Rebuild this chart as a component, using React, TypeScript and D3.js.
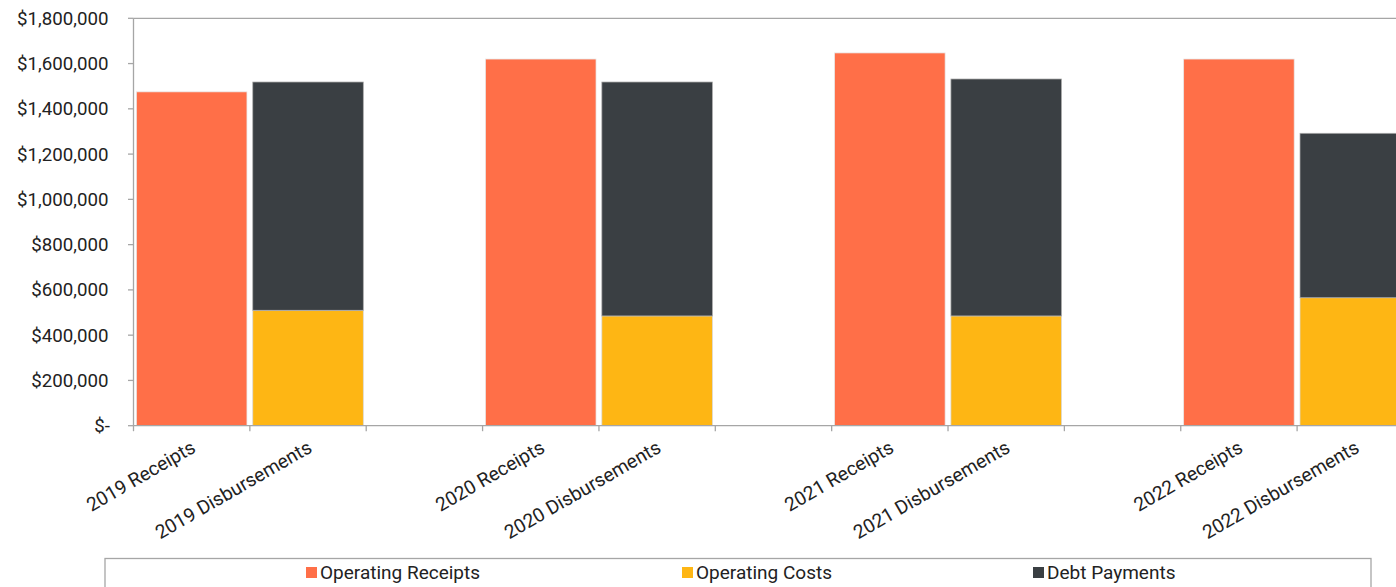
import React from "react";
import * as d3 from "d3";

const categories = [
  "2019 Receipts", "2019 Disbursements", "",
  "2020 Receipts", "2020 Disbursements", "",
  "2021 Receipts", "2021 Disbursements", "",
  "2022 Receipts", "2022 Disbursements",
];
const receiptSlots = [0, 3, 6, 9];
const disbursementSlots = [1, 4, 7, 10];
const operatingReceipts = [1475000, 1620000, 1647000, 1620000];
const operatingCosts = [510000, 485000, 485000, 565500];
const debtPayments = [1008500, 1033500, 1046800, 726400];
const yTicks = [0, 200000, 400000, 600000, 800000, 1000000, 1200000, 1400000, 1600000, 1800000];
const seriesNames = ["Operating Receipts", "Operating Costs", "Debt Payments"];
const colors = ["#FF6F48", "#FEB614", "#3A3F43"];

const W = 1396, H = 587;
const FONT = "Roboto, 'Noto Sans', sans-serif";
const AXIS = "#A6A6A6";

export default function App() {
  const x = d3.scaleBand<number>()
    .domain(d3.range(categories.length))
    .range([133.5, 133.5 + 116.36 * categories.length])
    .paddingInner(0.05)
    .paddingOuter(0.025);
  const step = x.step();
  const x0 = x.range()[0];
  const y = d3.scaleLinear().domain([0, 1800000]).range([425.7, 18.3]);
  const fmt = d3.format(",");
  const yLabel = (v: number) => (v === 0 ? "$-" : "$" + fmt(v));

  const legendX = [306, 682, 1033];

  return (
    <svg width={W} height={H} style={{ position: "absolute", left: 0, top: 0, fontFamily: FONT }}>
      <rect x={0} y={0} width={W} height={H} fill="#fff" />
      {/* top gridline */}
      <line x1={x0} x2={W} y1={y(1800000)} y2={y(1800000)} stroke={AXIS} strokeWidth={1.3} />
      {/* bars */}
      {receiptSlots.map((s, i) => (
        <rect key={"r" + i} x={x(s)} y={y(operatingReceipts[i])} width={x.bandwidth()}
          height={y(0) - y(operatingReceipts[i])} fill={colors[0]} stroke="#e8e8e8" strokeWidth={0.75} />
      ))}
      {disbursementSlots.map((s, i) => (
        <g key={"d" + i}>
          <rect x={x(s)} y={y(operatingCosts[i])} width={x.bandwidth()}
            height={y(0) - y(operatingCosts[i])} fill={colors[1]} stroke="#d8d8d8" strokeWidth={0.75} />
          <rect x={x(s)} y={y(operatingCosts[i] + debtPayments[i])} width={x.bandwidth()}
            height={y(operatingCosts[i]) - y(operatingCosts[i] + debtPayments[i])} fill={colors[2]} stroke="#aaaaaa" strokeWidth={0.75} />
        </g>
      ))}
      {/* y axis */}
      <line x1={x0} x2={x0} y1={y(1800000)} y2={y(0)} stroke={AXIS} strokeWidth={1.3} />
      {yTicks.map((t) => (
        <g key={t}>
          <line x1={x0 - 5.5} x2={x0} y1={y(t)} y2={y(t)} stroke={AXIS} strokeWidth={1.3} />
          <text x={t === 0 ? 110 : 108.5} y={y(t)} dy="0.35em" textAnchor="end" fontSize={18.7} fill="#222">
            {yLabel(t)}
          </text>
        </g>
      ))}
      {/* x axis */}
      <line x1={x0} x2={W} y1={y(0)} y2={y(0)} stroke={AXIS} strokeWidth={1.3} />
      {d3.range(categories.length + 1).map((i) => (
        <line key={"xt" + i} x1={x0 + i * step} x2={x0 + i * step} y1={y(0)} y2={y(0) + 5.5} stroke={AXIS} strokeWidth={1.3} />
      ))}
      {categories.map((c, i) => c && (
        <text key={"xl" + i} transform={`translate(${(x(i) as number) + x.bandwidth() / 2 - 2},${y(0) + 13}) rotate(-30)`}
          textAnchor="end" dy="0.75em" fontSize={19.2} fill="#222">
          {c}
        </text>
      ))}
      {/* legend */}
      <rect x={105} y={558.5} width={1266} height={40} fill="none" stroke={AXIS} strokeWidth={1.3} />
      {seriesNames.map((n, i) => (
        <g key={n}>
          <rect x={legendX[i]} y={567} width={11} height={11} fill={colors[i]} />
          <text x={legendX[i] + 14} y={572.5} dy="0.35em" fontSize={19} fill="#222">{n}</text>
        </g>
      ))}
    </svg>
  );
}
